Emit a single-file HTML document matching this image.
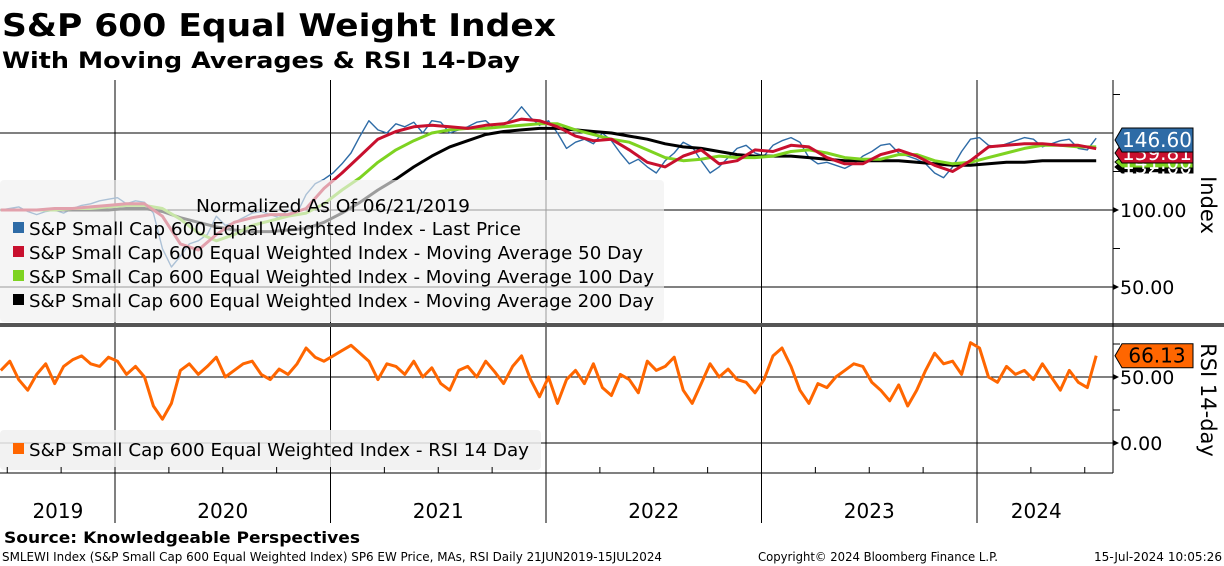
<!DOCTYPE html>
<html><head><meta charset="utf-8"><style>
body{margin:0;background:#fff;}
svg{display:block;font-family:"DejaVu Sans","Liberation Sans",sans-serif;}
</style></head><body>
<svg id="c" width="1224" height="566" viewBox="0 0 1224 566" xmlns="http://www.w3.org/2000/svg">
<text x="2" y="36" font-size="31" font-weight="bold" textLength="554" lengthAdjust="spacingAndGlyphs">S&amp;P 600 Equal Weight Index</text>
<text x="2" y="68" font-size="22" font-weight="bold" textLength="518" lengthAdjust="spacingAndGlyphs">With Moving Averages &amp; RSI 14-Day</text>
<g id="grid"></g>
<g id="series"></g>
<g id="over"></g>
<text x="4" y="543" font-size="16" font-weight="bold" textLength="356" lengthAdjust="spacingAndGlyphs">Source: Knowledgeable Perspectives</text>
<text x="2" y="561" font-size="12" textLength="660" lengthAdjust="spacingAndGlyphs">SMLEWI Index (S&amp;P Small Cap 600 Equal Weighted Index) SP6 EW Price, MAs, RSI  Daily 21JUN2019-15JUL2024</text>
<text x="758" y="561" font-size="12" textLength="240" lengthAdjust="spacingAndGlyphs">Copyright© 2024 Bloomberg Finance L.P.</text>
<text x="1222" y="561" font-size="12" text-anchor="end" textLength="128" lengthAdjust="spacingAndGlyphs">15-Jul-2024 10:05:26</text>
</svg>
<script>
const years=[2019,2020,2021,2022,2023,2024];
const priceStart=2019.47;
const price=[100,101,102,99,97,99,100,98,101,103,104,106,107,108,
104,106,105,98,75,63,70,78,80,84,96,90,92,95,98,99,97,95,100,98,110,117,120,124,
130,137,148,158,152,150,156,154,157,150,158,157,150,152,154,157,158,153,155,160,167,160,155,158,
150,140,144,146,143,150,145,137,130,133,128,124,132,137,144,141,132,124,128,134,140,142,137,135,
142,145,147,144,134,130,131,129,127,130,135,138,142,143,137,135,133,130,124,121,128,138,146,147,
142,141,143,145,147,146,141,143,145,146,140,139,146.6];
const ma50=[100,100,100,101,101,102,103,104,104,96,78,74,84,92,95,97,97,101,114,
124,135,146,151,154,155,154,153,155,156,159,158,154,148,145,146,139,131,128,135,139,130,132,139,
138,142,141,134,130,130,136,139,135,129,125,132,141,142,143,143,142,142,139.81];
const ma100=[100,100,100,100,101,101,102,103,103,101,94,85,80,84,90,93,96,98,104,
113,121,131,139,145,150,152,153,153,154,155,156,156,152,149,146,144,139,134,132,133,135,134,134,
135,138,139,137,134,133,133,136,136,132,130,131,134,137,140,142,142,141,141];
const ma200=[100,100,100,100,100,100,100,101,101,99,95,92,89,87,86,86,87,88,92,
98,105,113,120,128,135,141,145,149,151,152,153,153,152,151,150,148,146,143,141,140,138,136,135,
135,135,134,133,132,132,132,132,131,130,129,129,130,131,131,132,132,132,132];
const rsi=[55,62,48,40,52,60,45,58,63,66,60,58,65,62,
52,58,50,28,18,30,55,60,52,58,65,50,55,60,62,52,48,56,52,60,72,65,62,66,
70,74,68,62,48,60,58,52,62,50,57,45,40,55,58,50,62,54,45,58,66,48,35,50,
30,48,55,45,60,42,36,52,48,38,62,55,58,65,40,30,45,60,50,56,48,46,38,48,
66,72,58,40,30,45,42,50,55,60,58,46,40,32,44,28,40,55,68,60,62,52,76,72,
50,46,58,52,55,48,60,50,40,55,46,42,66.13];
const idxTicks=[50,100];
const rsiTicks=[0,50];

const X=t=>115+(t-2020)*215.5;
const Y=v=>210-(v-100)*1.54;
const R=v=>443-v*1.32;
const NS="http://www.w3.org/2000/svg";
function mk(tag,attrs,parent){const e=document.createElementNS(NS,tag);for(const k in attrs)e.setAttribute(k,attrs[k]);parent.appendChild(e);return e;}
const grid=document.getElementById('grid'),ser=document.getElementById('series'),ov=document.getElementById('over');

years.slice(1).forEach(y=>{
 const l=mk('line',{x1:X(y),x2:X(y),y1:80,y2:523,stroke:'#000','stroke-width':1},grid);
 
 
});
[150,100,50].forEach(v=>{const l=mk('line',{x1:0,x2:1113,y1:Y(v),y2:Y(v),stroke:'#000','stroke-width':1},grid);
 
 });
rsiTicks.forEach(v=>{const l=mk('line',{x1:0,x2:1113,y1:R(v),y2:R(v),stroke:'#000','stroke-width':1},grid);
 
 });

function path(arr,start,step,fy,color,w,name){
 const d=arr.map((v,i)=>(i?'L':'M')+X(start+i*step).toFixed(1)+','+fy(v).toFixed(1)).join('');
 const p=mk('path',{d:d,fill:'none',stroke:color,'stroke-width':w,'stroke-linejoin':'round'},ser);
 
 
}
path(price,priceStart,1/24,Y,'#2e6ba6',1.4,'last-price-line');
path(ma200,priceStart,1/12,Y,'#000',3,'ma200-line');
path(ma100,priceStart,1/12,Y,'#7ed321',3,'ma100-line');
path(ma50,priceStart,1/12,Y,'#c8102e',3,'ma50-line');
path(rsi,priceStart,1/24,R,'#ff6600',3,'rsi-line');

const lg=mk('rect',{x:0,y:180,width:664,height:142,rx:4,fill:'rgba(240,240,240,0.65)'},ov);


let t=mk('text',{x:196,y:212,'font-size':18,textLength:274,lengthAdjust:'spacingAndGlyphs'},ov);t.textContent='Normalized As Of 06/21/2019';


const ents=[['#2e6ba6','Last Price',492],['#c8102e','Moving Average 50 Day',614],['#7ed321','Moving Average 100 Day',625],['#000','Moving Average 200 Day',625]];
ents.forEach((e,i)=>{const yy=228+i*24;
 const r=mk('rect',{x:13,y:yy-6,width:11,height:11,fill:e[0]},ov);
 
 
 const tx=mk('text',{x:29,y:yy+7,'font-size':18,textLength:e[2],lengthAdjust:'spacingAndGlyphs'},ov);tx.textContent='S&P Small Cap 600 Equal Weighted Index - '+e[1];
 
 
});
const lg2=mk('rect',{x:0,y:430,width:541,height:40,rx:4,fill:'rgba(240,240,240,0.85)'},ov);


mk('rect',{x:13,y:443,width:11,height:11,fill:'#ff6600'},ov);
t=mk('text',{x:29,y:456,'font-size':18,textLength:500,lengthAdjust:'spacingAndGlyphs'},ov);t.textContent='S&P Small Cap 600 Equal Weighted Index - RSI 14 Day';



const dv=mk('rect',{x:0,y:323,width:1224,height:4,fill:'#555'},ov);


const ax=mk('line',{x1:1113,x2:1113,y1:80,y2:473,stroke:'#000'},ov);


const xa=mk('line',{x1:0,x2:1113,y1:473,y2:473,stroke:'#000'},ov);


for(let q=2019.5;q<2024.6;q+=0.25){mk('line',{x1:X(q),x2:X(q),y1:473,y2:467,stroke:'#000'},ov);}
[175,125,75].forEach(v=>mk('line',{x1:1113,x2:1120,y1:Y(v),y2:Y(v),stroke:'#000'},ov));
[75,25].forEach(v=>mk('line',{x1:1113,x2:1120,y1:R(v),y2:R(v),stroke:'#000'},ov));
idxTicks.forEach(v=>{mk('path',{d:`M1113,${Y(v)-3}L1119,${Y(v)}L1113,${Y(v)+3}Z`},ov);
 const tx=mk('text',{x:1120,y:Y(v)+7,'font-size':19},ov);tx.textContent=v.toFixed(2);
 
 });
rsiTicks.forEach(v=>{mk('path',{d:`M1113,${R(v)-3}L1119,${R(v)}L1113,${R(v)+3}Z`},ov);
 const tx=mk('text',{x:1120,y:R(v)+7,'font-size':19},ov);tx.textContent=v.toFixed(2);
 
 });
years.forEach(y=>{const a=Math.max(y,2019.47),b=Math.min(y+1,2024.55);
 const tx=mk('text',{x:(X(a)+X(b))/2,y:518,'font-size':20,'text-anchor':'middle'},ov);tx.textContent=y;
 
 });
t=mk('text',{x:1201,y:205,'font-size':21,'text-anchor':'middle',transform:'rotate(90 1201 205)'},ov);t.textContent='Index';


t=mk('text',{x:1201,y:400,'font-size':21,'text-anchor':'middle',transform:'rotate(90 1201 400)'},ov);t.textContent='RSI 14-day';



function tag(v,yy,fill,tc,name,h){
 const p=mk('path',{d:`M1115,${yy}L1122,${yy-h/2}L1193,${yy-h/2}L1193,${yy+h/2}L1122,${yy+h/2}Z`,fill:fill,stroke:'#000','stroke-width':1},ov);
 
 
 const tx=mk('text',{x:1157,y:yy+7,'font-size':20,'text-anchor':'middle',fill:tc},ov);tx.textContent=v.toFixed(2);
}
tag(ma200[ma200.length-1],167,'#000','#fff','ma200-value-tag',12);
tag(ma100[ma100.length-1],162,'#7ed321','#fff','ma100-value-tag',12);
tag(ma50[ma50.length-1],153,'#c8102e','#fff','ma50-value-tag',20);
tag(price[price.length-1],140,'#2e6ba6','#fff','price-value-tag',24);
tag(rsi[rsi.length-1],R(rsi[rsi.length-1]),'#ff6600','#000','rsi-value-tag',24);
</script>
</body></html>
